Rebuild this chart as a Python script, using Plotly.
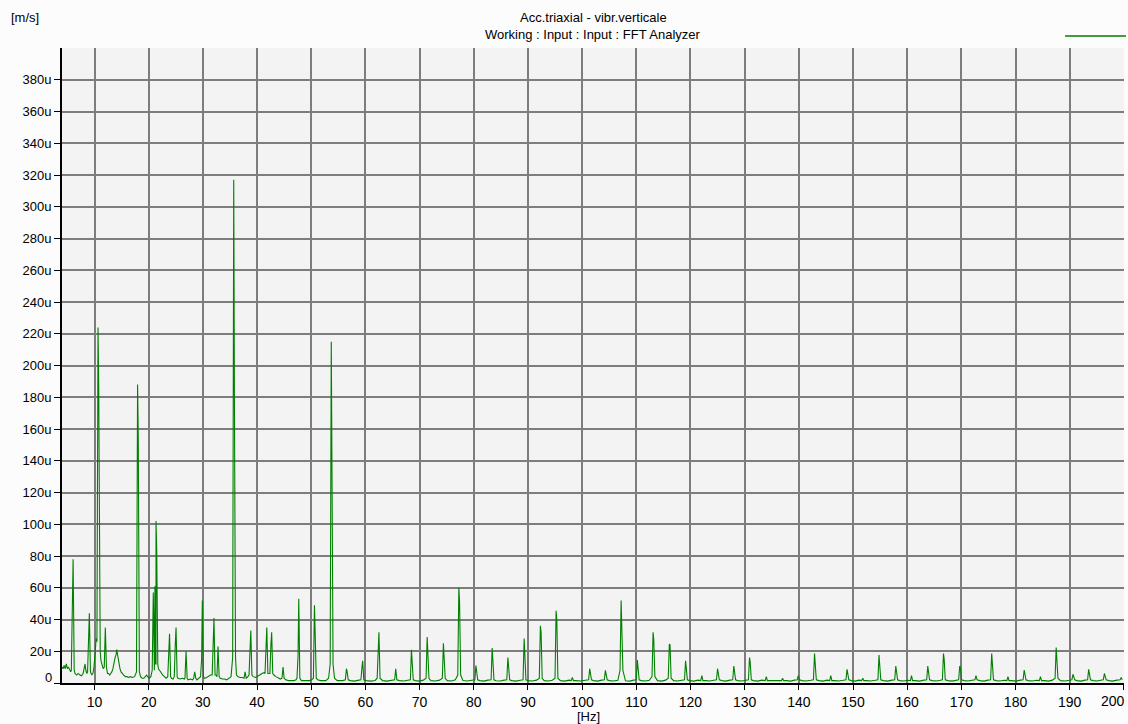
import plotly.graph_objects as go

# ---------------- data ----------------
# spectral lines: centre frequency [Hz], top amplitude [u m/s],
# adjacent-bin amplitude, side of adjacent bin, foot level
peak_freq = [6.05, 9.05, 10.65, 12.0, 17.95, 20.85, 21.15, 21.35, 23.85, 25.05,
             26.9, 28.5, 29.9, 32.05, 32.8, 35.7, 37.8, 38.85, 41.8, 42.7,
             44.8, 47.7, 50.6, 53.7, 56.5, 59.5, 62.5, 65.6, 68.5, 71.4,
             74.4, 77.25, 80.4, 83.4, 86.3, 89.3, 92.3, 95.2, 98.2, 101.4,
             104.3, 107.2, 110.2, 113.1, 116.1, 119.1, 122.1, 125.0, 128.0, 130.9,
             134.0, 137.0, 139.9, 142.9, 145.9, 148.9, 151.8, 154.8, 157.9, 160.8,
             163.8, 166.7, 169.7, 172.7, 175.6, 178.6, 181.6, 184.6, 187.5, 190.6,
             193.5, 196.4, 199.5]
peak_amp = [78, 44, 224, 35, 188, 57, 61, 102, 31, 35,
            20, 7, 52, 41, 23, 317, 7, 33, 35, 32,
            10, 53, 49, 215, 9, 14, 32, 9, 21, 29,
            25, 60, 11, 22, 16, 28, 36, 45.5, 3.5, 9,
            8, 52, 14.5, 32, 24.5, 14, 4.6, 9, 10.7, 16,
            4, 3, 4.6, 18.5, 4.6, 8.6, 3, 17.6, 10.7, 4.6,
            10.7, 18.5, 10.7, 4.6, 18.5, 4, 8.2, 4, 22.4, 5.5,
            8.6, 6, 3.4]
peak_second = [57, 25, 186, 0, 154, 0, 0, 85, 22, 25,
               0, 0, 15, 31, 0, 173, 0, 31, 27, 25,
               0, 17, 25, 133, 7, 10, 20, 0, 13, 21,
               17, 51, 6, 14, 11, 20, 32, 40, 0, 5,
               4, 31, 8, 27, 24, 10, 0, 5, 6, 13,
               0, 0, 0, 11, 0, 6, 0, 12, 8, 0,
               7, 15, 10, 0, 13, 0, 6, 0, 15, 4,
               6, 4, 0]
peak_side = [-1, -1, 1, 1, 1, 1, 1, 1, -1, -1,
             1, 1, -1, -1, 1, 1, 1, -1, -1, -1,
             1, -1, 1, 1, 1, -1, -1, 1, 1, 1,
             1, 1, 1, 1, 1, 1, 1, 1, 1, 1,
             1, 1, 1, 1, 1, 1, 1, 1, 1, 1,
             1, 1, 1, 1, 1, 1, 1, 1, 1, 1,
             1, 1, 1, 1, 1, 1, 1, 1, 1, 1,
             1, 1, 1]
peak_foot = [8, 7, 26, 10, 7, 8, 12, 12, 4, 4,
             3, 3, 4, 5, 4, 16, 3, 5, 6, 6,
             3, 3, 3, 12, 2, 2, 3, 2, 2, 3,
             3, 5, 2, 2, 2, 2, 3, 3, 1.5, 2,
             2, 8, 2, 4, 3, 2, 1.5, 2, 2, 2,
             1.5, 1.5, 2, 2, 1.5, 2, 1.5, 2, 2, 1.5,
             2, 2, 2, 2, 2, 1.5, 2, 1.5, 3, 2,
             2, 2, 2]

# broadband floor of the spectrum
base_freq = [4.0, 4.2, 4.4, 4.6, 4.8, 5.0, 5.2, 5.4, 5.6, 6.4, 6.7, 7.0, 7.3, 7.6, 7.9,
             8.1, 8.25, 8.4, 8.6, 8.8, 9.3, 9.5, 9.7, 9.9, 10.1, 10.3, 10.4, 11.05, 11.2,
             11.4, 11.6, 11.8, 12.2, 12.4, 12.6, 12.8, 13.0, 13.2, 13.4, 13.6, 13.8, 14.0,
             14.1, 14.3, 14.5, 14.7, 14.9, 15.1, 15.4, 15.7, 16.0, 16.3, 16.6, 17.0, 17.4,
             17.7, 18.3, 18.5, 18.8, 19.1, 19.4, 19.6, 19.8, 20.1, 20.4, 20.6, 21.8, 22.0,
             22.3, 22.6, 22.9, 23.2, 23.5, 24.2, 24.5, 24.8, 25.4, 25.8, 26.2, 26.6, 27.3,
             27.7, 28.1, 28.9, 29.3, 29.6, 30.3, 30.7, 31.0, 31.4, 31.7, 32.4, 33.2, 33.6,
             34.0, 34.4, 34.8, 35.2, 36.2, 36.5, 36.9, 37.3, 38.2, 38.5, 39.3, 39.7, 40.1,
             40.5, 40.9, 41.3, 42.2, 43.1, 43.5, 43.9, 44.3, 45.3, 45.8, 46.3, 46.8, 47.2,
             48.2, 48.7, 49.2, 49.7, 50.1, 51.2, 51.7, 52.2, 52.7, 53.2, 54.3, 54.8, 55.3,
             55.8, 57.2, 58.0, 58.8, 60.2, 61.0, 61.8, 63.2, 64.0, 64.8, 66.3, 67.1, 67.8,
             69.2, 70.0, 70.7, 72.1, 72.9, 73.7, 75.1, 75.9, 76.6, 78.0, 78.8, 79.6, 81.1,
             81.9, 82.6, 84.1, 84.9, 85.6, 87.0, 87.8, 88.6, 90.0, 90.8, 91.6, 93.0, 93.8,
             94.5, 96.0, 96.8, 97.6, 98.9, 99.7, 100.6, 102.1, 102.9, 103.6, 105.0, 105.8,
             106.6, 108.0, 108.8, 109.5, 110.9, 111.7, 112.4, 113.9, 114.7, 115.4, 116.9,
             117.6, 118.4, 119.8, 120.6, 121.4, 122.8, 123.6, 124.3, 125.8, 126.5, 127.3,
             128.7, 129.5, 130.2, 131.6, 132.4, 133.2, 134.7, 135.5, 136.3, 137.7, 138.5,
             139.2, 140.6, 141.4, 142.2, 143.7, 144.5, 145.2, 146.6, 147.4, 148.2, 149.7,
             150.4, 151.1, 152.5, 153.3, 154.1, 155.6, 156.4, 157.2, 158.6, 159.4, 160.1,
             161.5, 162.3, 163.1, 164.6, 165.4, 166.1, 167.5, 168.3, 169.0, 170.5, 171.2,
             172.0, 173.4, 174.2, 174.9, 176.4, 177.1, 177.9, 179.3, 180.1, 180.9, 182.3,
             183.1, 183.9, 185.3, 186.1, 186.8, 188.3, 189.1, 189.9, 191.3, 192.1, 192.8,
             194.3, 195.0, 195.7, 197.2, 197.9, 198.7, 200.0]
base_level = [10, 9, 11, 9, 12, 9, 10, 8, 7, 6, 5, 6, 5, 4.5, 6,
              10, 12, 8, 6, 7, 6, 5, 6, 10, 18, 28, 32, 20, 14,
              12, 9, 10, 8, 6, 6, 5, 6, 7, 9, 13, 16, 18,
              21, 17, 12, 9, 7, 6, 5, 4, 4, 3.5, 4, 3.5, 4,
              5, 6, 4, 3, 3, 4, 5, 4, 3, 4, 5, 9, 8,
              6, 5, 4, 3, 3, 3, 2.5, 3, 3, 2.5, 3, 2.5, 2,
              2.5, 2, 2, 3, 3, 3, 3.5, 4, 5, 5, 5, 3, 2.5,
              2.5, 2, 3, 4, 5, 4, 3.5, 3.5, 3.5, 4, 4, 3.5, 4,
              5, 6, 6.5, 6, 5, 4, 3, 2.5, 2, 1.5, 1.5, 1.5, 2,
              1.5, 1.5, 1.5, 1.5, 2, 2, 1.5, 1.5, 1.5, 3, 3, 1.5, 1.5,
              1.5, 1.5, 1.2, 1.8, 1.5, 1.2, 1.6, 1.5, 1.2, 1.8, 1.5, 1.3, 1.7,
              1.5, 1.2, 1.8, 1.5, 1.3, 1.8, 1.5, 1.3, 2.0, 1.6, 1.3, 1.7, 1.5,
              1.2, 1.8, 1.4, 1.3, 1.8, 1.5, 1.2, 1.7, 1.5, 1.3, 1.8, 1.5,
              1.3, 1.7, 1.5, 1.2, 1.8, 1.5, 1.3, 1.7, 1.5, 1.2, 1.8, 1.5,
              1.3, 1.7, 1.4, 1.2, 1.8, 1.5, 1.3, 1.7, 1.5, 1.2, 1.8,
              1.5, 1.3, 1.7, 1.5, 1.2, 1.8, 1.5, 1.3, 1.7, 1.5, 1.2,
              1.8, 1.5, 1.3, 1.7, 1.5, 1.2, 1.8, 1.5, 1.3, 1.7, 1.5,
              1.2, 1.8, 1.5, 1.3, 1.7, 1.5, 1.2, 1.8, 1.5, 1.3, 1.7,
              1.5, 1.2, 1.8, 1.5, 1.3, 1.7, 1.5, 1.2, 1.8, 1.5, 1.3,
              1.7, 1.5, 1.2, 1.8, 1.5, 1.3, 1.7, 1.5, 1.2, 1.8, 1.5,
              1.3, 1.7, 1.5, 1.2, 1.8, 1.5, 1.3, 1.7, 1.5, 1.2, 1.8,
              1.5, 1.3, 1.7, 1.5, 1.2, 1.8, 1.5, 1.3, 1.7, 1.5, 1.2,
              1.8, 1.5, 1.3, 1.7, 1.5, 1.2, 1.8]

y_tick_vals = [0, 20, 40, 60, 80, 100, 120, 140, 160, 180, 200, 220, 240, 260, 280,
               300, 320, 340, 360, 380]
y_tick_text = ['', '20u', '40u', '60u', '80u', '100u', '120u', '140u', '160u', '180u',
               '200u', '220u', '240u', '260u', '280u', '300u', '320u', '340u', '360u', '380u']
y_zero_label = '0'
x_tick_vals = [10, 20, 30, 40, 50, 60, 70, 80, 90, 100, 110, 120, 130, 140, 150,
               160, 170, 180, 190, 200]
x_tick_text = ['10', '20', '30', '40', '50', '60', '70', '80', '90', '100', '110', '120',
               '130', '140', '150', '160', '170', '180', '190', '']
x_last_label = '200'

title_1 = 'Acc.triaxial - vibr.verticale'
title_2 = 'Working : Input : Input : FFT Analyzer'
y_unit = '[m/s]'
x_unit = '[Hz]'

# ---------------- build the line (vertices ordered by frequency) ----------------
BIN = 0.13   # FFT bin spacing used for adjacent bins
FOOT = 0.2   # distance from outermost bin to its foot
pts = []
windows = []
for f, a, s, side, ft in zip(peak_freq, peak_amp, peak_second, peak_side, peak_foot):
    bins = [(f, a)]
    if s:
        bins.append((f + side * BIN, s))
    bins.sort()
    lo, hi = bins[0][0] - FOOT, bins[-1][0] + FOOT
    windows.append((lo, hi))
    pts.append((lo, ft))
    pts.extend(bins)
    pts.append((hi, ft))
for f, v in zip(base_freq, base_level):
    if not any(lo - 0.05 <= f <= hi + 0.05 for lo, hi in windows):
        pts.append((f, v))
pts.sort()
xs = [p[0] for p in pts]
ys = [p[1] for p in pts]

FONT = 'Liberation Sans, Arial, sans-serif'

fig = go.Figure()
fig.add_trace(go.Scatter(x=xs, y=ys, mode='lines',
                         line=dict(color='#008000', width=1.1),
                         showlegend=False, hoverinfo='skip'))

fig.update_layout(
    width=1128, height=724,
    margin=dict(l=62, r=4, t=48, b=41, autoexpand=False),
    paper_bgcolor='#fcfcfc', plot_bgcolor='#f3f3f3',
    font=dict(family=FONT, size=13, color='#000000'),
    showlegend=False,
    xaxis=dict(range=[4, 200.02], tickvals=x_tick_vals, ticktext=x_tick_text,
               ticks='outside', ticklen=5,
               tickcolor='#000000', showgrid=True, gridcolor='#7d7d7d', gridwidth=1.6,
               showline=True, linecolor='#000000', linewidth=2, zeroline=False,
               tickfont=dict(size=14), automargin=False, fixedrange=True),
    yaxis=dict(range=[0, 400], tickvals=y_tick_vals, ticktext=y_tick_text,
               ticks='outside', ticklen=6, tickcolor='#000000',
               showgrid=True, gridcolor='#7d7d7d', gridwidth=1.6,
               showline=True, linecolor='#000000', linewidth=2, zeroline=False,
               tickfont=dict(size=13), automargin=False, fixedrange=True),
    annotations=[
        dict(text=title_1, x=0.5, y=1.0488, xref='paper', yref='paper',
             xanchor='center', yanchor='middle', showarrow=False, font=dict(size=13)),
        dict(text=title_2, x=0.5, y=1.0205, xref='paper', yref='paper',
             xanchor='center', yanchor='middle', showarrow=False, font=dict(size=13)),
        dict(text=y_unit, x=-0.0348, y=1.0488, xref='paper', yref='paper',
             xanchor='center', yanchor='middle', showarrow=False, font=dict(size=13)),
        dict(text=x_unit, x=0.496, y=-0.053, xref='paper', yref='paper',
             xanchor='center', yanchor='middle', showarrow=False, font=dict(size=13)),
        dict(text=y_zero_label, x=0, y=0, xref='paper', yref='y',
             xanchor='right', yanchor='middle', xshift=-8, yshift=6,
             showarrow=False, font=dict(size=13)),
        dict(text=x_last_label, x=1.0, y=-0.028, xref='paper', yref='paper',
             xanchor='right', yanchor='middle', xshift=3,
             showarrow=False, font=dict(size=14)),
    ],
    shapes=[dict(type='line', xref='paper', yref='paper', x0=0.9445, x1=1.0019,
                 y0=1.0189, y1=1.0189, line=dict(color='#008000', width=1.5))],
)

fig.write_html('out.html')
